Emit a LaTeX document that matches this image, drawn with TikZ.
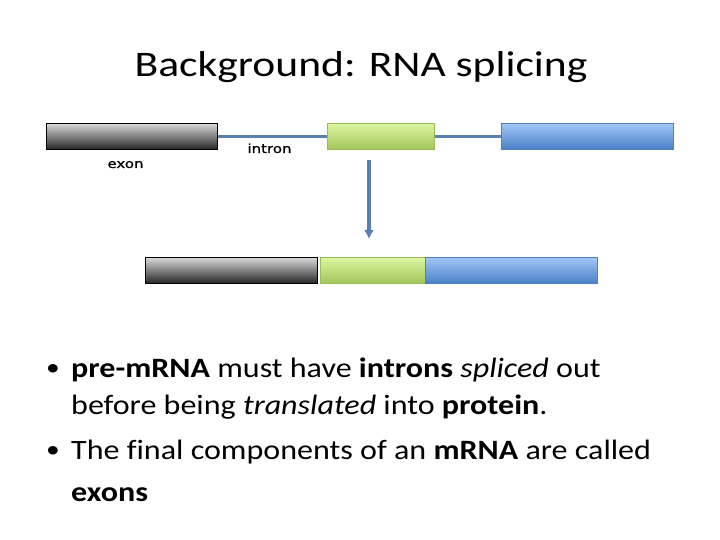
\documentclass[tikz,border=0pt]{standalone}
\usepackage{fontspec}
\usetikzlibrary{arrows.meta}
\setmainfont{Carlito}
\newfontfamily\titlefont[FakeStretch=1.21]{Carlito}
\newfontfamily\bodyfont[FakeStretch=1.145, Ligatures=NoCommon]{Carlito}
\newfontfamily\labelfont[FakeStretch=1.2, FakeBold=1]{DejaVu Sans}
\definecolor{lineblue}{HTML}{5A7FB3}
\definecolor{greenedge}{HTML}{9BBB59}
\definecolor{greentop}{HTML}{DCF7A2}
\definecolor{greenbot}{HTML}{A2C55A}
\definecolor{blueedge}{HTML}{4F81BD}
\definecolor{bluetop}{HTML}{A2C6F7}
\definecolor{bluebot}{HTML}{4A80C8}
\tikzset{
  graybar/.style={draw=black, top color=black!15, bottom color=black!85, line width=0.8pt, inner sep=0pt, minimum height=26pt, anchor=north west},
  greenbar/.style={draw=greenedge, top color=greentop, bottom color=greenbot, line width=0.8pt, inner sep=0pt, minimum height=26pt, anchor=north west},
  bluebar/.style={draw=blueedge, top color=bluetop, bottom color=bluebot, line width=0.8pt, inner sep=0pt, minimum height=26pt, anchor=north west},
  conn/.style={draw=lineblue, line width=3.4pt},
  lbl/.style={font=\labelfont\fontsize{12.5}{14}\selectfont, inner sep=0pt, anchor=base},
  bline/.style={font=\bodyfont\fontsize{28}{34}\selectfont, anchor=base west, inner sep=0pt},
  bdot/.style={font=\bodyfont\fontsize{24}{30}\selectfont, anchor=base west, inner sep=0pt}
}
\begin{document}
\begin{tikzpicture}[x=1pt,y=-1pt]
\useasboundingbox (0,0) rectangle (720,540);
\node[font=\titlefont\fontsize{36}{44}\selectfont, inner sep=0pt, anchor=base] (title) at (361,77) {Background: RNA splicing};
% top row
\node[graybar, minimum width=171pt] (e1) at (46,123) {};
\node[greenbar, minimum width=107pt] (e2) at (327,123) {};
\node[bluebar, minimum width=172pt] (e3) at (501,123) {};
\draw[conn] (e1.east) -- (e2.west);
\draw[conn] (e2.east) -- (e3.west);
\node[lbl] (exonlbl) at (125.5,168) {exon};
\node[lbl] (intronlbl) at (269.5,153) {intron};
% arrow
\coordinate (astart) at (369,160);
\coordinate (aend) at (369,239);
\draw[draw=lineblue, line width=3.2pt, -{Latex[length=9pt,width=10pt]}] (astart) -- (aend);
% bottom row
\node[graybar, minimum width=172pt] (m1) at (145,257) {};
\node[greenbar, minimum width=105pt] (m2) at (320,257) {};
\node[bluebar, minimum width=172pt] (m3) at (425,257) {};
% bullets
\node[bdot] (b1dot) at (46,375) {•};
\node[bline] (b1a) at (71,377) {\textbf{pre-mRNA} must have \textbf{introns} \textit{spliced} out};
\node[bline] (b1b) at (71,414) {before being \textit{translated} into \textbf{protein}.};
\node[bdot] (b2dot) at (46,457) {•};
\node[bline] (b2a) at (71,459) {The final components of an \textbf{mRNA} are called};
\node[bline] (b2b) at (71,501) {\textbf{exons}};
\end{tikzpicture}
\end{document}
